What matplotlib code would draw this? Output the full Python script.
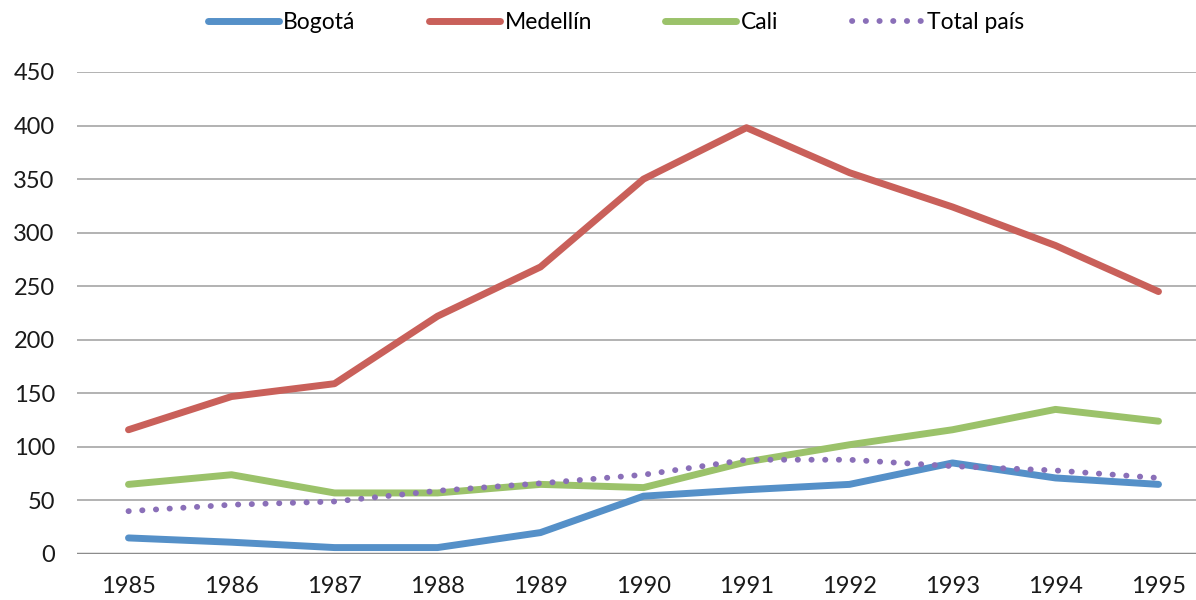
import matplotlib
matplotlib.use('Agg')
import matplotlib.pyplot as plt

# datos
years = ['1985', '1986', '1987', '1988', '1989', '1990', '1991', '1992', '1993', '1994', '1995']
bogota = [15, 11, 6, 6, 20, 54, 60, 65, 85, 71, 65]
medellin = [116, 147, 159, 222, 268, 350, 398, 356, 324, 288, 245]
cali = [65, 74, 57, 57, 65, 62, 86, 102, 116, 135, 124]
total_pais = [40, 46, 49, 59, 66, 74, 88, 88, 82, 78, 71]

plt.rcParams['font.family'] = ['Lato', 'DejaVu Sans']

fig = plt.figure(figsize=(11.96, 6.0), dpi=100)
ax = fig.add_axes([77 / 1196, 46 / 600, 1133 / 1196, 482 / 600])

x = list(range(len(years)))
ax.plot(x, bogota, color='#5590C8', lw=5, solid_capstyle='round', solid_joinstyle='round', label='Bogotá')
ax.plot(x, medellin, color='#C9605A', lw=5, solid_capstyle='round', solid_joinstyle='round', label='Medellín')
ax.plot(x, cali, color='#9BC26A', lw=5, solid_capstyle='round', solid_joinstyle='round', label='Cali')
ax.plot(x, total_pais, color='#8A6FB8', lw=4.2, linestyle=(0, (0.05, 2.3)), dash_capstyle='round',
        label='Total país')

ax.set_xlim(-0.5, 10.5)
ax.set_ylim(0, 450)
ax.set_yticks(range(0, 451, 50))
ax.set_xticks(x)
ax.set_xticklabels(years)

for y in range(50, 451, 50):
    ax.axhline(y, color='#A6A6A6', lw=1.2, zorder=0)
ax.axhline(0, color='#8C8C8C', lw=2.5, zorder=0)

for s in ax.spines.values():
    s.set_visible(False)
ax.tick_params(length=0, labelsize=17, colors='#1a1a1a')
ax.tick_params(axis='x', pad=16)
ax.tick_params(axis='y', pad=16)

leg = fig.legend(loc='upper center', bbox_to_anchor=(0.515, 1.015), ncol=4, frameon=False,
                 fontsize=16.5, handlelength=3.1, columnspacing=3.2, handletextpad=0.2)

fig.savefig('out.png', dpi=100)
